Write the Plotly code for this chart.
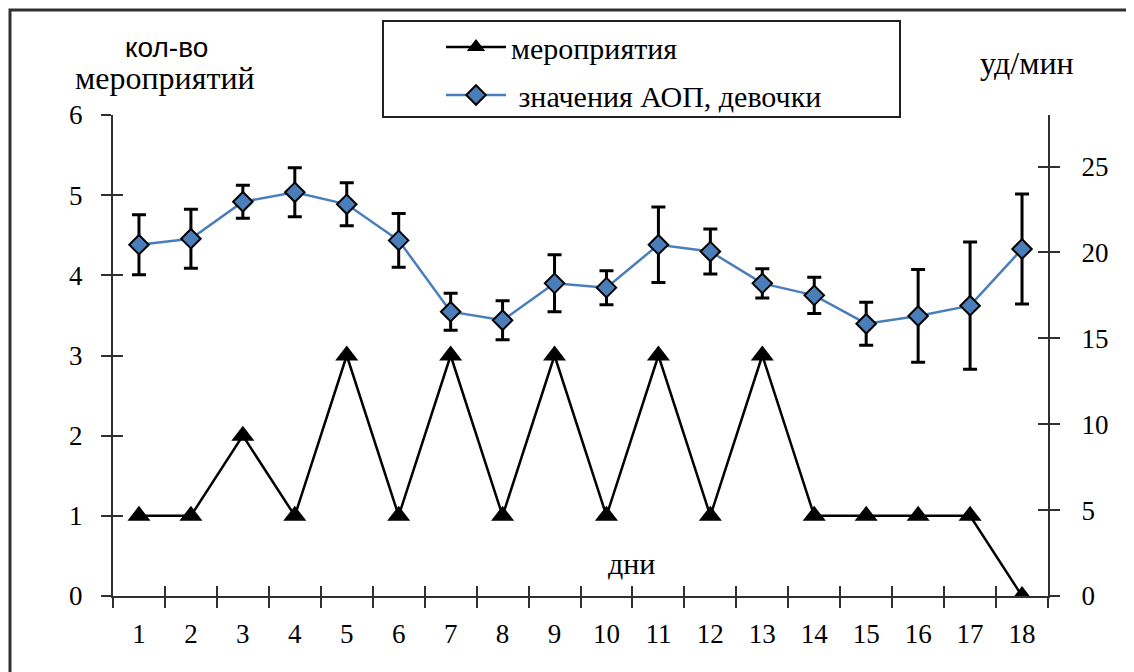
import plotly.graph_objects as go

days = list(range(1, 18 + 1))
day_labels = [str(d) for d in days]
events = [1, 1, 2, 1, 3, 1, 3, 1, 3, 1, 3, 1, 3, 1, 1, 1, 1, 0]
aop_girls = [20.45, 20.8, 22.95, 23.5, 22.8, 20.7, 16.55, 16.05, 18.2, 17.95,
             20.45, 20.05, 18.2, 17.5, 15.85, 16.3, 16.9, 20.2]
aop_err = [1.75, 1.72, 0.96, 1.43, 1.25, 1.57, 1.08, 1.14, 1.66, 0.99,
           2.2, 1.31, 0.85, 1.05, 1.25, 2.7, 3.7, 3.2]
left_ticks = [0, 1, 2, 3, 4, 5, 6]
right_ticks = [0, 5, 10, 15, 20, 25]
boundaries = [d - 0.5 for d in days] + [days[-1] + 0.5]

SERIF = "Liberation Serif"
SANS = "Liberation Sans"
AX = "#303030"
BLUE = "#4A7EBB"

# page offset (default body margin of the html page)
OFF = 8
W, H = 1134 - OFF, 672 - OFF
# plot area in reference px
L, R, T, B = 113, 1048, 115, 596
pw, ph = R - L, B - T
def px(x):
    return (x - L) / pw
def py(y):
    return (B - y) / ph

fig = go.Figure()
fig.add_trace(go.Scatter(
    x=days, y=events, name="мероприятия", mode="lines+markers",
    legendgroup="a",
    line=dict(color="black", width=2.5),
    marker=dict(symbol="triangle-up", size=20, color="black"),
    xaxis="x", yaxis="y"))
fig.add_trace(go.Scatter(
    x=days, y=aop_girls, name=" значения АОП, девочки", mode="lines+markers",
    legendgroup="b",
    line=dict(color=BLUE, width=2.5),
    marker=dict(symbol="diamond", size=15, color=BLUE,
                line=dict(color="black", width=2)),
    error_y=dict(type="data", array=aop_err, visible=True,
                 color="black", thickness=3, width=7),
    xaxis="x", yaxis="y2"))
# empty traces to activate the overlay axes that draw the inner half of the crossing ticks
fig.add_trace(go.Scatter(x=[], y=[], xaxis="x2", yaxis="y3", showlegend=False))
fig.add_trace(go.Scatter(x=[], y=[], xaxis="x2", yaxis="y4", showlegend=False))

tickfont = dict(family=SERIF, size=27, color="black")
fig.update_layout(
    width=W, height=H,
    margin=dict(l=L - OFF, r=W - (R - OFF), t=T - OFF, b=H - (B - OFF), pad=0),
    paper_bgcolor="white", plot_bgcolor="white",
    showlegend=True,
    legend=dict(x=px(441), y=py(21), xanchor="left", yanchor="top",
                font=dict(family=SERIF, size=30, color="black"),
                bgcolor="rgba(0,0,0,0)", borderwidth=0,
                itemwidth=60, tracegroupgap=6, traceorder="grouped"),
    xaxis=dict(range=[0.5, 18.5], tickmode="array", tickvals=days, ticktext=day_labels,
               ticks="", showgrid=False, zeroline=False,
               showline=True, linecolor=AX, linewidth=2, tickfont=tickfont,
               ticklabelstandoff=13,
               minor=dict(tickmode="array", tickvals=boundaries, ticks="outside",
                          ticklen=10, tickwidth=2, tickcolor=AX, showgrid=False)),
    xaxis2=dict(range=[0.5, 18.5], overlaying="x", anchor="y", side="bottom",
                tickmode="array", tickvals=boundaries, ticks="inside", ticklen=10,
                tickwidth=2, tickcolor=AX, showticklabels=False, showgrid=False,
                zeroline=False, showline=False),
    yaxis=dict(range=[0, 6], tickmode="array", tickvals=left_ticks, ticks="outside",
               ticklen=10, tickwidth=2, tickcolor=AX, showgrid=False, zeroline=False,
               showline=True, linecolor=AX, linewidth=2, tickfont=tickfont,
               ticklabelstandoff=13),
    yaxis2=dict(range=[0, 28], tickmode="array", tickvals=right_ticks, ticks="outside",
                ticklen=10, tickwidth=2, tickcolor=AX, showgrid=False, zeroline=False,
                showline=True, linecolor=AX, linewidth=2, tickfont=tickfont,
                overlaying="y", side="right", anchor="x", ticklabelstandoff=16),
    yaxis3=dict(range=[0, 6], tickmode="array", tickvals=left_ticks, ticks="inside",
                ticklen=10, tickwidth=2, tickcolor=AX, showticklabels=False,
                showgrid=False, zeroline=False, showline=False,
                overlaying="y", side="left", anchor="x2"),
    yaxis4=dict(range=[0, 28], tickmode="array", tickvals=right_ticks, ticks="inside",
                ticklen=10, tickwidth=2, tickcolor=AX, showticklabels=False,
                showgrid=False, zeroline=False, showline=False,
                overlaying="y", side="right", anchor="x2"),
    shapes=[
        dict(type="rect", xref="paper", yref="paper",
             x0=px(383), x1=px(900), y0=py(117), y1=py(21),
             line=dict(color="#202020", width=2), fillcolor="rgba(0,0,0,0)"),
        dict(type="rect", xref="paper", yref="paper",
             x0=px(10), x1=px(1134 + 20), y0=py(672 + 20), y1=py(10),
             line=dict(color="#303030", width=3), fillcolor="rgba(0,0,0,0)"),
    ],
    annotations=[
        dict(text="кол-во", x=px(166), y=py(48), xref="paper", yref="paper",
             xanchor="center", yanchor="middle",
             showarrow=False, font=dict(family=SANS, size=28, color="black")),
        dict(text="мероприятий", x=px(165), y=py(78), xref="paper", yref="paper",
             xanchor="center", yanchor="middle",
             showarrow=False, font=dict(family=SERIF, size=32, color="black")),
        dict(text="уд/мин", x=px(1027), y=py(63), xref="paper", yref="paper",
             xanchor="center", yanchor="middle",
             showarrow=False, font=dict(family=SERIF, size=32, color="black")),
        dict(text="дни", x=px(631), y=py(563), xref="paper", yref="paper",
             xanchor="center", yanchor="middle",
             showarrow=False, font=dict(family=SERIF, size=30, color="black")),
    ],
)

fig.write_html("out.html")
